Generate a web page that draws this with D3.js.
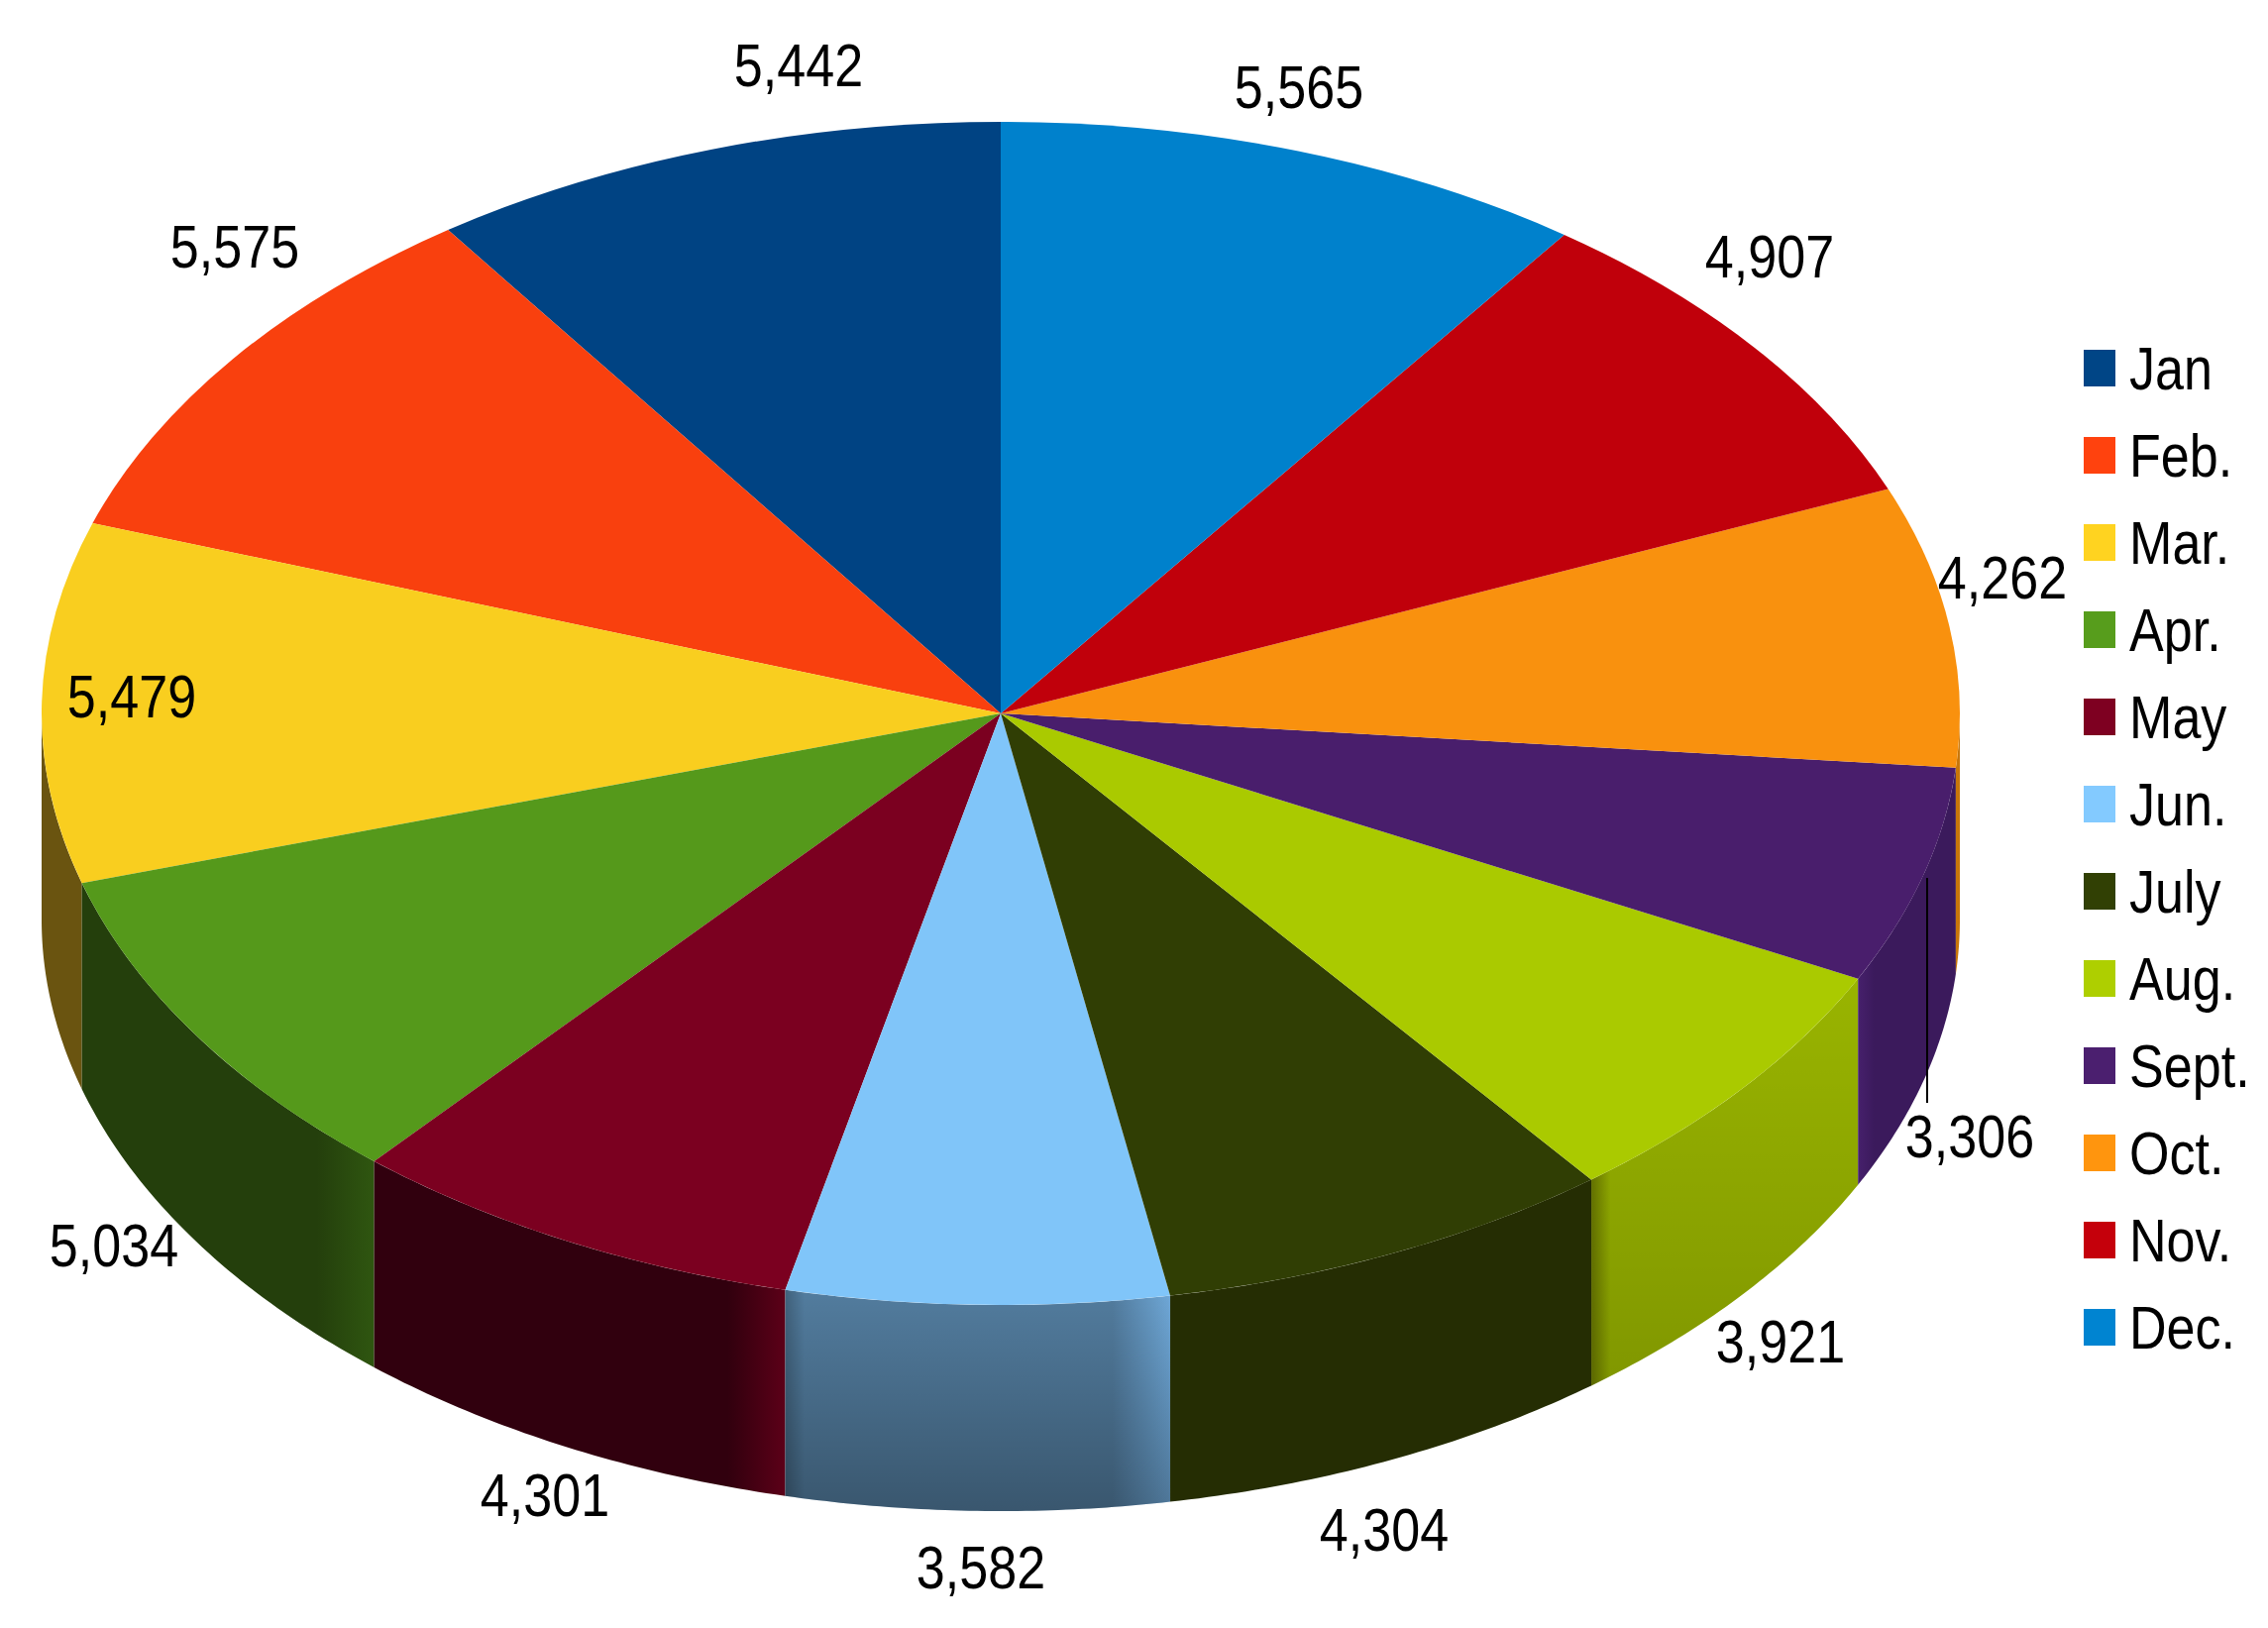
<!DOCTYPE html>
<html>
<head>
<meta charset="utf-8">
<style>
  html, body { margin: 0; background: #fff; }
  text { font-family: "Liberation Sans", sans-serif; fill: #000; }
</style>
<script src="https://cdn.jsdelivr.net/npm/d3@7"></script>
</head>
<body>
<div id="chart"></div>
<script>
var months = ['Jan', 'Feb.', 'Mar.', 'Apr.', 'May', 'Jun.', 'July', 'Aug.', 'Sept.', 'Oct.', 'Nov.', 'Dec.'];
var values = [5442, 5575, 5479, 5034, 4301, 3582, 4304, 3921, 3306, 4262, 4907, 5565];

var colors = ['#004586', '#ff420e', '#ffd320', '#579d1c', '#7e0021', '#83caff',
  '#314004', '#aecf00', '#4b1f6f', '#ff950e', '#c5000b', '#0084d1'];
var sideColors = ['#002340', '#7f2007', '#6a5410', '#243f0c', '#31000e', '#527c9e',
  '#252d03', '#99b400', '#3b1a5c', '#c8760a', '#600005', '#004268'];
var sideEdgeColors = ['#002340', '#7f2007', '#6a5410', '#2f5610', '#5c0018', '#6fa8d8',
  '#1c2202', '#6b7a00', '#46206c', '#e08a10', '#600005', '#004268'];
var glowSides = ['none', 'none', 'none', 'right', 'right', 'both',
  'none', 'left', 'left', 'none', 'none', 'none'];
var wallDarkening = [0, 0, 0, 0, 0, 0.3, 0, 0.16, 0, 0, 0, 0];

var width = 2289, height = 1643;
var cx = 1010, cy = 720, rx = 968, ry = 597, depth = 208;
var glowWidth = 58;
var textSquash = 0.84;

var labelCenters = [[806, 65], [237, 248], [133, 702], [115, 1256], [550, 1508], [990, 1581],
  [1397, 1543], [1797, 1353], [1988, 1146], [2021, 582], [1786, 258], [1311, 87]];

var svg = d3.select('#chart').append('svg')
  .attr('width', width)
  .attr('height', height);
var defs = svg.append('defs');

var pie = d3.pie().sort(null).value(function(d) { return d; });
var slices = pie(values);

function edgeX(a) { return cx - rx * Math.sin(a); }
function edgeY(a) { return cy - ry * Math.cos(a); }

// only the front half of the rim shows
function visibleRange(d) {
  var a0 = Math.max(d.startAngle, Math.PI / 2);
  var a1 = Math.min(d.endAngle, Math.PI * 3 / 2);
  return a0 < a1 ? [a0, a1] : null;
}

function wallPath(range) {
  var n = 48;
  var top = d3.range(n + 1).map(function(i) {
    var a = range[0] + (range[1] - range[0]) * i / n;
    return [edgeX(a), edgeY(a)];
  });
  var bottom = top.slice().reverse().map(function(p) { return [p[0], p[1] + depth]; });
  return d3.line()(top.concat(bottom)) + 'Z';
}

var darken = defs.append('linearGradient')
  .attr('id', 'wallDarken')
  .attr('x1', 0).attr('y1', 0).attr('x2', 0).attr('y2', 1);
darken.append('stop').attr('offset', 0).attr('stop-color', '#000').attr('stop-opacity', 0);
darken.append('stop').attr('offset', 1).attr('stop-color', '#000').attr('stop-opacity', 1);

var walls = svg.append('g').attr('class', 'walls');

slices.forEach(function(d, i) {
  var range = visibleRange(d);
  if (!range) return;
  var xLeft = Math.min(edgeX(range[0]), edgeX(range[1]));
  var xRight = Math.max(edgeX(range[0]), edgeX(range[1]));
  var id = 'wall' + i;
  var grad = defs.append('linearGradient')
    .attr('id', id)
    .attr('gradientUnits', 'userSpaceOnUse')
    .attr('x1', xLeft).attr('y1', 0).attr('x2', xRight).attr('y2', 0);
  var glow = Math.min(glowWidth / (xRight - xLeft), 0.5);
  var stops;
  if (glowSides[i] === 'right') {
    stops = [[0, sideColors[i]], [1 - glow, sideColors[i]], [1, sideEdgeColors[i]]];
  } else if (glowSides[i] === 'left') {
    stops = [[0, sideEdgeColors[i]], [glow / 3, sideColors[i]], [1, sideColors[i]]];
  } else if (glowSides[i] === 'both') {
    stops = [[0, d3.color(sideColors[i]).darker(0.7)], [glow / 3, sideColors[i]],
      [1 - glow, sideColors[i]], [1, sideEdgeColors[i]]];
  } else {
    stops = [[0, sideColors[i]], [1, sideColors[i]]];
  }
  grad.selectAll('stop').data(stops).enter().append('stop')
    .attr('offset', function(s) { return s[0]; })
    .attr('stop-color', function(s) { return s[1]; });

  walls.append('path').attr('d', wallPath(range)).attr('fill', 'url(#' + id + ')');
  if (wallDarkening[i] > 0) {
    walls.append('path').attr('d', wallPath(range))
      .attr('fill', 'url(#wallDarken)')
      .attr('fill-opacity', wallDarkening[i]);
  }
});

var arc = d3.arc().innerRadius(0).outerRadius(rx);

svg.append('g')
  .attr('class', 'top')
  .attr('transform', 'translate(' + cx + ',' + cy + ') scale(-1,' + (ry / rx) + ')')
  .selectAll('path')
  .data(slices)
  .enter().append('path')
  .attr('d', arc)
  .attr('fill', function(d, i) { return d3.color(colors[i]).darker(0.07); });

// leader line for the Sept. label
svg.append('line')
  .attr('x1', 1945).attr('y1', 886)
  .attr('x2', 1945).attr('y2', 1113)
  .attr('stroke', '#000')
  .attr('stroke-width', 2);

// the original text is a condensed face, no narrow font here so squash it
svg.append('g')
  .attr('class', 'labels')
  .selectAll('text')
  .data(values)
  .enter().append('text')
  .attr('transform', function(d, i) {
    return 'translate(' + labelCenters[i][0] + ',' + labelCenters[i][1] + ') scale(' + textSquash + ',1)';
  })
  .attr('dy', '0.35em')
  .attr('text-anchor', 'middle')
  .attr('font-size', 62)
  .text(d3.format(','));

var legendY = d3.scalePoint().domain(months).range([371, 1339]);

var legend = svg.append('g').attr('class', 'legend');
legend.selectAll('rect')
  .data(months)
  .enter().append('rect')
  .attr('x', 2103)
  .attr('y', function(d) { return legendY(d) - 18; })
  .attr('width', 32)
  .attr('height', 37)
  .attr('fill', function(d, i) { return colors[i]; });
legend.selectAll('text')
  .data(months)
  .enter().append('text')
  .attr('transform', function(d) {
    return 'translate(2149,' + legendY(d) + ') scale(' + textSquash + ',1)';
  })
  .attr('dy', '0.35em')
  .attr('font-size', 62)
  .text(function(d) { return d; });
</script>
</body>
</html>
